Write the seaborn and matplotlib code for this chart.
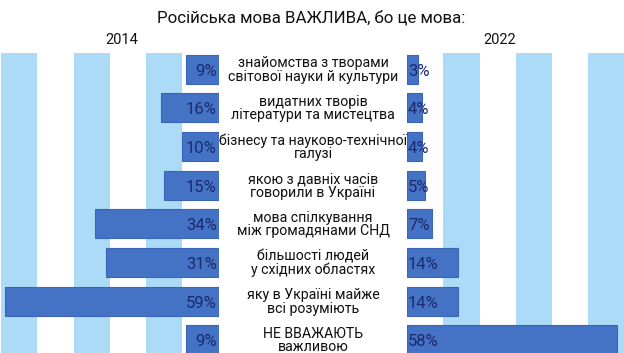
import matplotlib
matplotlib.use("Agg")
import matplotlib.pyplot as plt
import matplotlib.transforms as mtransforms
import seaborn as sns
import pandas as pd

categories = [
    "знайомства з творами\nсвітової науки й культури",
    "видатних творів\nлітератури та мистецтва",
    "бізнесу та науково-технічної\nгалузі",
    "якою з давніх часів\nговорили в Україні",
    "мова спілкування\nміж громадянами СНД",
    "більшості людей\nу східних областях",
    "яку в Україні майже\nвсі розуміють",
    "НЕ ВВАЖАЮТЬ\nважливою",
]
values_2014 = [9, 16, 10, 15, 34, 31, 59, 9]
values_2022 = [3, 4, 4, 5, 7, 14, 14, 58]
title = "Російська мова ВАЖЛИВА, бо це мова:"
year_left = "2014"
year_right = "2022"

df = pd.DataFrame({"cat": categories, "y2014": values_2014, "y2022": values_2022})

sns.set_theme(style="white")
plt.rcParams["font.family"] = ["Roboto", "DejaVu Sans"]

W, H = 624, 353
fig = plt.figure(figsize=(W / 100, H / 100), dpi=100)

def ax_rect(x0, x1, y0, y1):
    return [x0 / W, 1 - y1 / H, (x1 - x0) / W, (y1 - y0) / H]

axL = fig.add_axes(ax_rect(1, 218.5, 53, 356))
axR = fig.add_axes(ax_rect(407, 624.5, 53, 356))

BAR = "#4472C4"
STRIPE = "#ABDBF7"
TXT = "#1C2A6E"

for ax, col in ((axL, "y2014"), (axR, "y2022")):
    for a, b in ((10, 20), (30, 40), (50, 60)):
        ax.axvspan(a, b, color=STRIPE, lw=0, zorder=0)
    sns.barplot(data=df, x=col, y="cat", ax=ax, color=BAR, orient="h",
                width=0.75, edgecolor="#3B66B8", linewidth=0.8, saturation=1, zorder=2)
    ax.set_xlim(0, 60)
    ax.set_ylim(7.42, -0.42)
    ax.set_xlabel("")
    ax.set_ylabel("")
    ax.set_xticks([])
    ax.set_yticks([])
    for s in ax.spines.values():
        s.set_visible(False)
    ax.set_facecolor("none")

axL.set_xlim(60, 0)

for i, v in enumerate(values_2014):
    axL.text(0.5, i + 0.05, f"{v}%", ha="right", va="center", color=TXT, fontsize=12, zorder=3)
for i, v in enumerate(values_2022):
    axR.text(0.25, i + 0.05, f"{v}%", ha="left", va="center", color=TXT, fontsize=12, zorder=3)

tr = mtransforms.blended_transform_factory(fig.transFigure, axL.transData)
for i, c in enumerate(categories):
    fig.text(313 / W, i + 0.02, c, transform=tr, ha="center", va="center",
             fontsize=10.2, color="#111111", linespacing=0.95)

fig.text(311 / W, 1 - 18 / H, title, ha="center", va="center", fontsize=12.2, color="#111111")
fig.text(122 / W, 1 - 40 / H, year_left, ha="center", va="center", fontsize=10.5, color="#111111")
fig.text(500 / W, 1 - 40 / H, year_right, ha="center", va="center", fontsize=10.5, color="#111111")

fig.savefig("out.png", dpi=100)
